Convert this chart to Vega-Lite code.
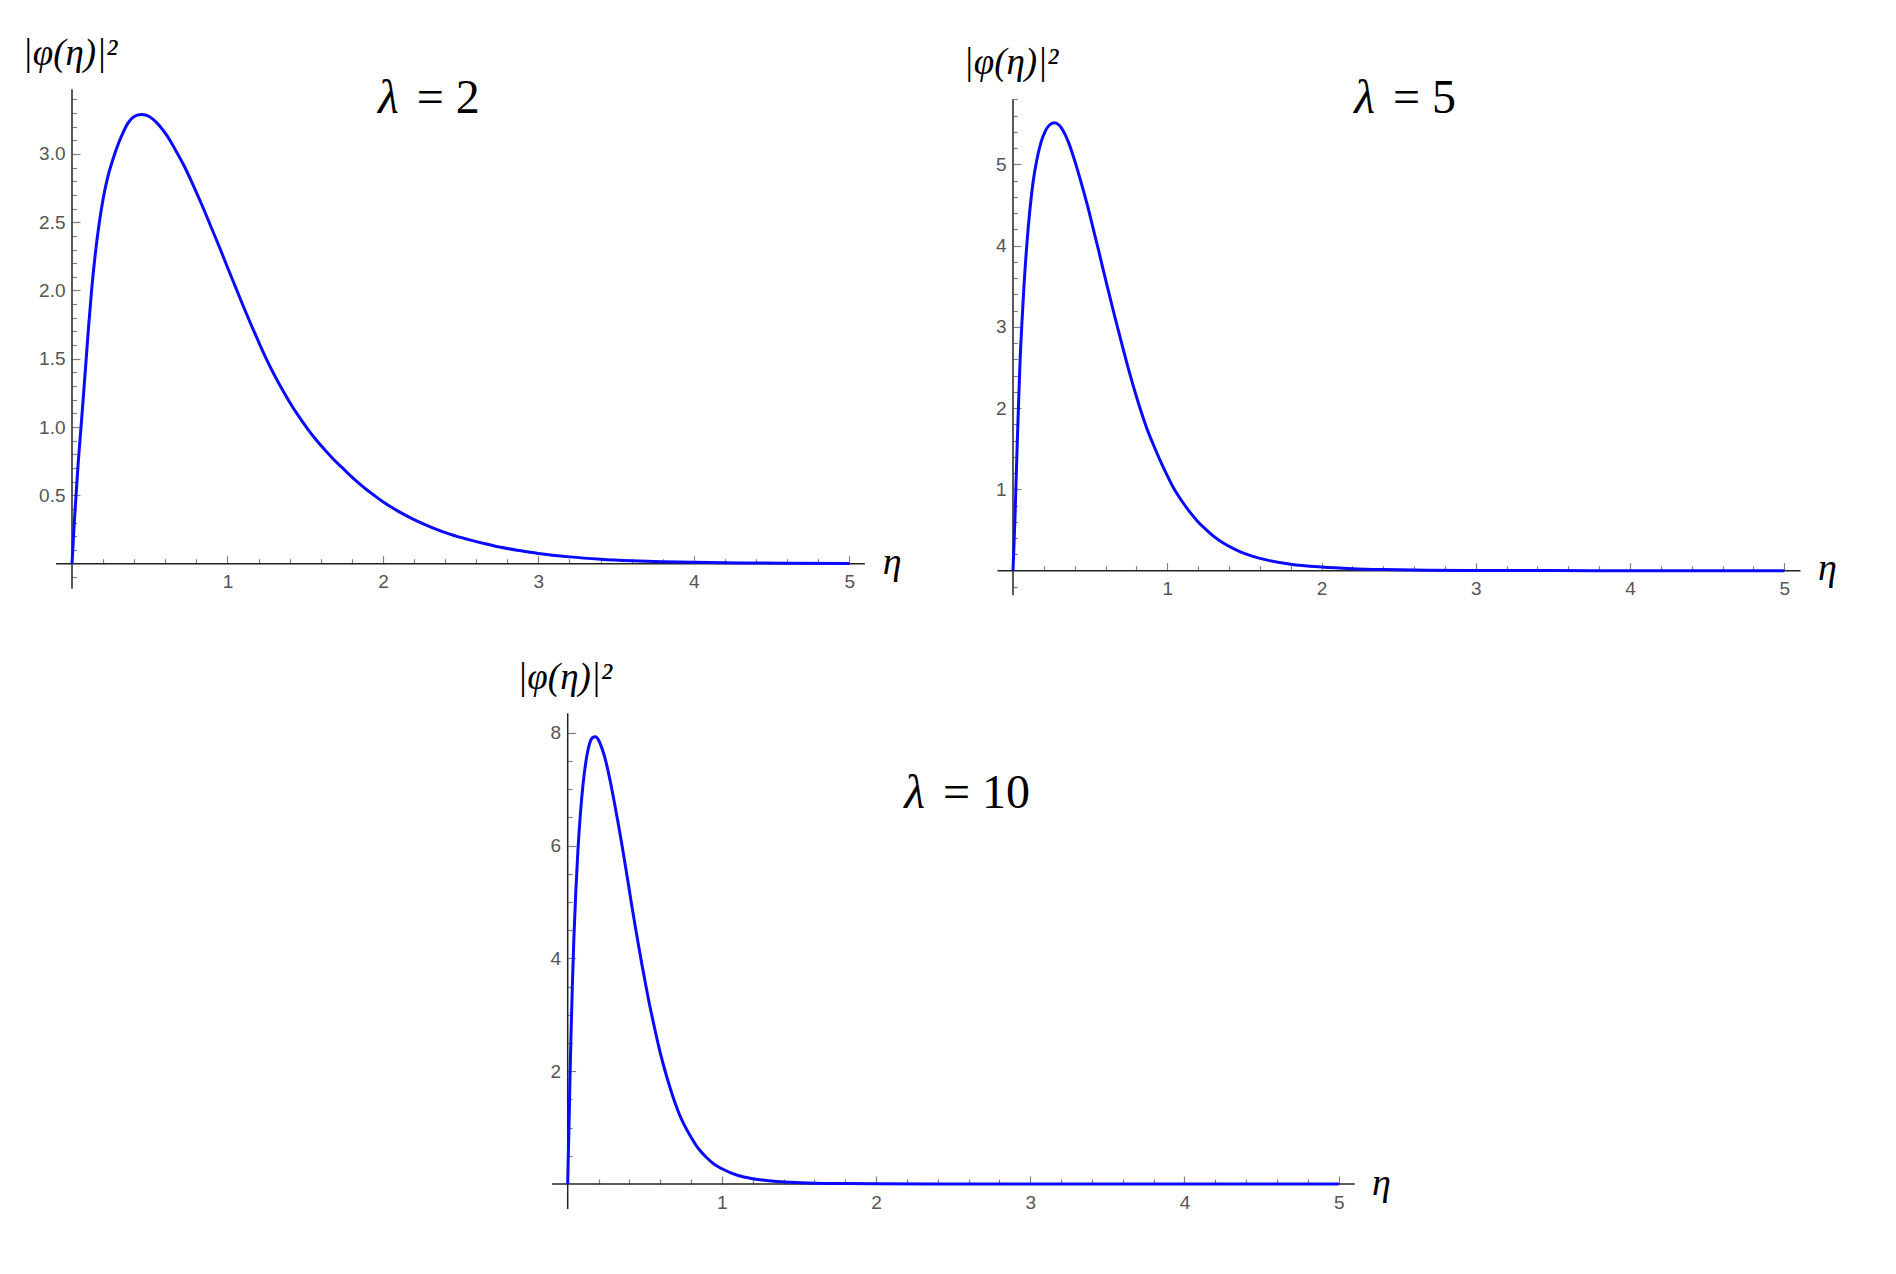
{
  "$schema": "https://vega.github.io/schema/vega-lite/v6.json",
  "padding": 0,
  "spacing": 0,
  "background": "white",
  "config": {"view": {"stroke": null, "fill": "white"}},
  "datasets": {
    "one": [{"k": 1}],
    "c2": [
      {"eta":0,"p":0},{"eta":0.005,"p":0.1},{"eta":0.012,"p":0.25},{"eta":0.026,"p":0.5},{"eta":0.04,"p":0.74},{"eta":0.058,"p":1.0},{"eta":0.075,"p":1.25},{"eta":0.09,"p":1.48},{"eta":0.107,"p":1.74},{"eta":0.126,"p":2.0},{"eta":0.15,"p":2.27},{"eta":0.176,"p":2.5},{"eta":0.2,"p":2.67},{"eta":0.23,"p":2.83},{"eta":0.266,"p":2.97},{"eta":0.3,"p":3.08},{"eta":0.33,"p":3.16},{"eta":0.36,"p":3.225},{"eta":0.39,"p":3.265},{"eta":0.42,"p":3.284},{"eta":0.448,"p":3.289},{"eta":0.48,"p":3.282},{"eta":0.52,"p":3.255},{"eta":0.56,"p":3.21},{"eta":0.61,"p":3.135},{"eta":0.66,"p":3.04},{"eta":0.72,"p":2.915},{"eta":0.78,"p":2.77},{"eta":0.84,"p":2.615},{"eta":0.9,"p":2.45},{"eta":0.96,"p":2.285},{"eta":1.0,"p":2.17},{"eta":1.05,"p":2.03},{"eta":1.1,"p":1.89},{"eta":1.15,"p":1.755},{"eta":1.2,"p":1.625},{"eta":1.25,"p":1.5},{"eta":1.3,"p":1.385},{"eta":1.36,"p":1.26},{"eta":1.42,"p":1.145},{"eta":1.47,"p":1.06},{"eta":1.52,"p":0.98},{"eta":1.57,"p":0.907},{"eta":1.63,"p":0.828},{"eta":1.68,"p":0.767},{"eta":1.74,"p":0.701},{"eta":1.79,"p":0.645},{"eta":1.85,"p":0.585},{"eta":1.9,"p":0.538},{"eta":1.95,"p":0.495},{"eta":2.0,"p":0.454},{"eta":2.1,"p":0.383},{"eta":2.2,"p":0.323},{"eta":2.32,"p":0.263},{"eta":2.44,"p":0.213},{"eta":2.54,"p":0.18},{"eta":2.65,"p":0.148},{"eta":2.75,"p":0.122},{"eta":2.88,"p":0.096},{"eta":3.0,"p":0.075},{"eta":3.2,"p":0.05},{"eta":3.4,"p":0.033},{"eta":3.6,"p":0.022},{"eta":3.8,"p":0.015},{"eta":4.0,"p":0.01},{"eta":4.3,"p":0.006},{"eta":4.6,"p":0.0035},{"eta":5.0,"p":0.0015}
    ],
    "c5": [
      {"eta":0,"p":0},{"eta":0.005,"p":0.25},{"eta":0.013,"p":0.66},{"eta":0.02,"p":1.1},{"eta":0.028,"p":1.6},{"eta":0.036,"p":2.05},{"eta":0.045,"p":2.54},{"eta":0.057,"p":3.02},{"eta":0.071,"p":3.5},{"eta":0.09,"p":4.02},{"eta":0.11,"p":4.45},{"eta":0.13,"p":4.78},{"eta":0.153,"p":5.04},{"eta":0.18,"p":5.26},{"eta":0.207,"p":5.4},{"eta":0.235,"p":5.48},{"eta":0.268,"p":5.51},{"eta":0.3,"p":5.48},{"eta":0.326,"p":5.41},{"eta":0.36,"p":5.27},{"eta":0.391,"p":5.1},{"eta":0.42,"p":4.92},{"eta":0.456,"p":4.68},{"eta":0.49,"p":4.44},{"eta":0.521,"p":4.2},{"eta":0.555,"p":3.94},{"eta":0.585,"p":3.7},{"eta":0.62,"p":3.43},{"eta":0.65,"p":3.2},{"eta":0.685,"p":2.94},{"eta":0.715,"p":2.72},{"eta":0.75,"p":2.47},{"eta":0.78,"p":2.27},{"eta":0.82,"p":2.02},{"eta":0.866,"p":1.76},{"eta":0.91,"p":1.55},{"eta":0.953,"p":1.36},{"eta":1.0,"p":1.17},{"eta":1.04,"p":1.02},{"eta":1.09,"p":0.87},{"eta":1.147,"p":0.72},{"eta":1.2,"p":0.6},{"eta":1.255,"p":0.5},{"eta":1.31,"p":0.41},{"eta":1.363,"p":0.34},{"eta":1.42,"p":0.28},{"eta":1.47,"p":0.235},{"eta":1.55,"p":0.18},{"eta":1.65,"p":0.13},{"eta":1.8,"p":0.08},{"eta":2.0,"p":0.045},{"eta":2.2,"p":0.025},{"eta":2.4,"p":0.014},{"eta":2.7,"p":0.006},{"eta":3.0,"p":0.003},{"eta":3.5,"p":0.001},{"eta":4.0,"p":0.0003},{"eta":5.0,"p":0}
    ],
    "c10": [
      {"eta":0,"p":0},{"eta":0.004,"p":0.5},{"eta":0.009,"p":1.1},{"eta":0.015,"p":1.9},{"eta":0.022,"p":2.7},{"eta":0.03,"p":3.5},{"eta":0.04,"p":4.35},{"eta":0.052,"p":5.15},{"eta":0.066,"p":5.9},{"eta":0.082,"p":6.55},{"eta":0.1,"p":7.1},{"eta":0.12,"p":7.52},{"eta":0.14,"p":7.79},{"eta":0.16,"p":7.91},{"eta":0.18,"p":7.93},{"eta":0.2,"p":7.87},{"eta":0.22,"p":7.74},{"eta":0.242,"p":7.55},{"eta":0.262,"p":7.32},{"eta":0.282,"p":7.06},{"eta":0.305,"p":6.73},{"eta":0.329,"p":6.37},{"eta":0.35,"p":6.04},{"eta":0.373,"p":5.66},{"eta":0.395,"p":5.29},{"eta":0.416,"p":4.93},{"eta":0.438,"p":4.57},{"eta":0.46,"p":4.22},{"eta":0.482,"p":3.88},{"eta":0.504,"p":3.56},{"eta":0.527,"p":3.23},{"eta":0.551,"p":2.92},{"eta":0.575,"p":2.62},{"eta":0.6,"p":2.33},{"eta":0.625,"p":2.07},{"eta":0.65,"p":1.83},{"eta":0.675,"p":1.61},{"eta":0.7,"p":1.41},{"eta":0.725,"p":1.23},{"eta":0.75,"p":1.08},{"eta":0.8,"p":0.83},{"eta":0.85,"p":0.62},{"eta":0.9,"p":0.47},{"eta":0.95,"p":0.35},{"eta":1.0,"p":0.27},{"eta":1.1,"p":0.155},{"eta":1.2,"p":0.093},{"eta":1.3,"p":0.057},{"eta":1.45,"p":0.03},{"eta":1.6,"p":0.015},{"eta":1.8,"p":0.007},{"eta":2.0,"p":0.003},{"eta":2.5,"p":0.001},{"eta":3.0,"p":0},{"eta":5.0,"p":0}
    ]
  },
  "vconcat": [
    {
      "spacing": 0,
      "hconcat": [
        {
          "width": 930,
          "height": 640,
          "layer": [
            {"data": {"name": "one"}, "mark": {"type": "rule", "color": "#222222", "strokeWidth": 1.5},
             "encoding": {"x": {"datum": -0.103, "type": "quantitative"}, "x2": {"datum": 5.1}, "y": {"datum": 0, "type": "quantitative"}}},
            {"data": {"name": "one"}, "mark": {"type": "rule", "color": "#222222", "strokeWidth": 1.5},
             "encoding": {"x": {"datum": 0, "type": "quantitative"}, "y": {"datum": -0.183, "type": "quantitative"}, "y2": {"datum": 3.473}}},
            {"data": {"name": "c2"},
             "mark": {"type": "line", "color": "#0a0aff", "strokeWidth": 3, "interpolate": "monotone"},
             "encoding": {
              "x": {
                "field": "eta", "type": "quantitative",
                "scale": {"domain": [-0.46314, 5.5191], "nice": false, "zero": false},
                "axis": {
                  "orient": "bottom", "offset": -76.3, "domain": false, "grid": false, "tickCount": 1000,
                  "values": [0.2,0.4,0.6,0.8,1,1.2,1.4,1.6,1.8,2,2.2,2.4,2.6,2.8,3,3.2,3.4,3.6,3.8,4,4.2,4.4,4.6,4.8,5],
                  "tickSize": {"condition": {"test": "abs(datum.value - round(datum.value)) < 1e-6", "value": -8}, "value": -5},
                  "tickColor": "#808080", "tickWidth": 1.2,
                  "labelExpr": "abs(datum.value - round(datum.value)) < 1e-6 ? format(datum.value, 'd') : ''",
                  "labelPadding": 17, "labelFont": "Liberation Sans", "labelFontSize": 19, "labelColor": "#555555",
                  "labelFlush": false, "labelOverlap": false, "labelBaseline": "top", "labelAlign": "center",
                  "title": "η", "titleFont": "Liberation Serif", "titleFontStyle": "italic", "titleFontWeight": "normal",
                  "titleFontSize": 38, "titleColor": "#000000", "titleX": 891.7, "titleY": 10, "titleAlign": "center",
                  "titleBaseline": "alphabetic", "titleAngle": 0
                }
              },
              "y": {
                "field": "p", "type": "quantitative",
                "scale": {"domain": [-0.55857, 4.12665], "nice": false, "zero": false},
                "axis": {
                  "orient": "left", "offset": -72, "domain": false, "grid": false, "tickCount": 1000,
                  "values": [-0.1,0.1,0.2,0.3,0.4,0.5,0.6,0.7,0.8,0.9,1,1.1,1.2,1.3,1.4,1.5,1.6,1.7,1.8,1.9,2,2.1,2.2,2.3,2.4,2.5,2.6,2.7,2.8,2.9,3,3.1,3.2,3.3,3.4],
                  "tickSize": {"condition": {"test": "abs(datum.value*2 - round(datum.value*2)) < 1e-6", "value": -8}, "value": -4.5},
                  "tickColor": "#808080", "tickWidth": 1.2,
                  "labelExpr": "abs(datum.value*2 - round(datum.value*2)) < 1e-6 ? format(datum.value, '.1f') : ''",
                  "labelPadding": 15, "labelFont": "Liberation Sans", "labelFontSize": 19, "labelColor": "#555555",
                  "labelFlush": false, "labelOverlap": false, "labelAlign": "right", "labelBaseline": "middle",
                  "title": "|φ(η)|²", "titleFont": "Liberation Serif", "titleFontStyle": "italic", "titleFontWeight": "normal",
                  "titleFontSize": 37, "titleColor": "#000000", "titleX": -50, "titleY": 64, "titleAlign": "left",
                  "titleBaseline": "alphabetic", "titleAngle": 0
                }
              }
            }},
            {"data": {"name": "one"}, "mark": {"type": "text", "font": "Liberation Serif", "fontSize": 48, "fontStyle": "italic", "align": "right", "baseline": "alphabetic", "color": "#000000", "dx": -9},
             "encoding": {"x": {"datum": 2.16, "type": "quantitative"}, "y": {"datum": 3.3016, "type": "quantitative"}, "text": {"value": "λ"}}},
            {"data": {"name": "one"}, "mark": {"type": "text", "font": "Liberation Serif", "fontSize": 48, "align": "left", "baseline": "alphabetic", "color": "#000000", "dx": 9},
             "encoding": {"x": {"datum": 2.16, "type": "quantitative"}, "y": {"datum": 3.3016, "type": "quantitative"}, "text": {"value": "= 2"}}}
          ]
        },
        {
          "width": 966,
          "height": 640,
          "layer": [
            {"data": {"name": "one"}, "mark": {"type": "rule", "color": "#222222", "strokeWidth": 1.5},
             "encoding": {"x": {"datum": -0.101, "type": "quantitative"}, "x2": {"datum": 5.105}, "y": {"datum": 0, "type": "quantitative"}}},
            {"data": {"name": "one"}, "mark": {"type": "rule", "color": "#222222", "strokeWidth": 1.5},
             "encoding": {"x": {"datum": 0, "type": "quantitative"}, "y": {"datum": -0.303, "type": "quantitative"}, "y2": {"datum": 5.8}}},
            {"data": {"name": "c5"},
             "mark": {"type": "line", "color": "#0a0aff", "strokeWidth": 3, "interpolate": "monotone"},
             "encoding": {
              "x": {
                "field": "eta", "type": "quantitative",
                "scale": {"domain": [-0.53806, 5.72411], "nice": false, "zero": false},
                "axis": {
                  "orient": "bottom", "offset": -69.3, "domain": false, "grid": false, "tickCount": 1000,
                  "values": [0.2,0.4,0.6,0.8,1,1.2,1.4,1.6,1.8,2,2.2,2.4,2.6,2.8,3,3.2,3.4,3.6,3.8,4,4.2,4.4,4.6,4.8,5],
                  "tickSize": {"condition": {"test": "abs(datum.value - round(datum.value)) < 1e-6", "value": -8}, "value": -5},
                  "tickColor": "#808080", "tickWidth": 1.2,
                  "labelExpr": "abs(datum.value - round(datum.value)) < 1e-6 ? format(datum.value, 'd') : ''",
                  "labelPadding": 17, "labelFont": "Liberation Sans", "labelFontSize": 19, "labelColor": "#555555",
                  "labelFlush": false, "labelOverlap": false, "labelBaseline": "top", "labelAlign": "center",
                  "title": "η", "titleFont": "Liberation Serif", "titleFontStyle": "italic", "titleFontWeight": "normal",
                  "titleFontSize": 38, "titleColor": "#000000", "titleX": 897, "titleY": 9, "titleAlign": "center",
                  "titleBaseline": "alphabetic", "titleAngle": 0
                }
              },
              "y": {
                "field": "p", "type": "quantitative",
                "scale": {"domain": [-0.85261, 7.0214], "nice": false, "zero": false},
                "axis": {
                  "orient": "left", "offset": -83, "domain": false, "grid": false, "tickCount": 1000,
                  "values": [-0.2,0.2,0.4,0.6,0.8,1,1.2,1.4,1.6,1.8,2,2.2,2.4,2.6,2.8,3,3.2,3.4,3.6,3.8,4,4.2,4.4,4.6,4.8,5,5.2,5.4,5.6,5.8],
                  "tickSize": {"condition": {"test": "abs(datum.value - round(datum.value)) < 1e-6", "value": -8}, "value": -4.5},
                  "tickColor": "#808080", "tickWidth": 1.2,
                  "labelExpr": "abs(datum.value - round(datum.value)) < 1e-6 ? format(datum.value, 'd') : ''",
                  "labelPadding": 15, "labelFont": "Liberation Sans", "labelFontSize": 19, "labelColor": "#555555",
                  "labelFlush": false, "labelOverlap": false, "labelAlign": "right", "labelBaseline": "middle",
                  "title": "|φ(η)|²", "titleFont": "Liberation Serif", "titleFontStyle": "italic", "titleFontWeight": "normal",
                  "titleFontSize": 37, "titleColor": "#000000", "titleX": -50, "titleY": 73, "titleAlign": "left",
                  "titleBaseline": "alphabetic", "titleAngle": 0
                }
              }
            }},
            {"data": {"name": "one"}, "mark": {"type": "text", "font": "Liberation Serif", "fontSize": 48, "fontStyle": "italic", "align": "right", "baseline": "alphabetic", "color": "#000000", "dx": -9},
             "encoding": {"x": {"datum": 2.405, "type": "quantitative"}, "y": {"datum": 5.635, "type": "quantitative"}, "text": {"value": "λ"}}},
            {"data": {"name": "one"}, "mark": {"type": "text", "font": "Liberation Serif", "fontSize": 48, "align": "left", "baseline": "alphabetic", "color": "#000000", "dx": 9},
             "encoding": {"x": {"datum": 2.405, "type": "quantitative"}, "y": {"datum": 5.635, "type": "quantitative"}, "text": {"value": "= 5"}}}
          ]
        }
      ]
    },
    {
      "width": 1896,
      "height": 634,
      "layer": [
        {"data": {"name": "one"}, "mark": {"type": "rule", "color": "#222222", "strokeWidth": 1.5},
         "encoding": {"x": {"datum": -0.102, "type": "quantitative"}, "x2": {"datum": 5.104}, "y": {"datum": 0, "type": "quantitative"}}},
        {"data": {"name": "one"}, "mark": {"type": "rule", "color": "#222222", "strokeWidth": 1.5},
         "encoding": {"x": {"datum": 0, "type": "quantitative"}, "y": {"datum": -0.443, "type": "quantitative"}, "y2": {"datum": 8.345}}},
        {"data": {"name": "c10"},
         "mark": {"type": "line", "color": "#0a0aff", "strokeWidth": 3, "interpolate": "monotone"},
         "encoding": {
          "x": {
            "field": "eta", "type": "quantitative",
            "scale": {"domain": [-3.68158, 8.61414], "nice": false, "zero": false},
            "axis": {
              "orient": "bottom", "offset": -90, "domain": false, "grid": false, "tickCount": 1000,
              "values": [0.2,0.4,0.6,0.8,1,1.2,1.4,1.6,1.8,2,2.2,2.4,2.6,2.8,3,3.2,3.4,3.6,3.8,4,4.2,4.4,4.6,4.8,5],
              "tickSize": {"condition": {"test": "abs(datum.value - round(datum.value)) < 1e-6", "value": -8}, "value": -5},
              "tickColor": "#808080", "tickWidth": 1.2,
              "labelExpr": "abs(datum.value - round(datum.value)) < 1e-6 ? format(datum.value, 'd') : ''",
              "labelPadding": 17, "labelFont": "Liberation Sans", "labelFontSize": 19, "labelColor": "#555555",
              "labelFlush": false, "labelOverlap": false, "labelBaseline": "top", "labelAlign": "center",
              "title": "η", "titleFont": "Liberation Serif", "titleFontStyle": "italic", "titleFontWeight": "normal",
              "titleFontSize": 38, "titleColor": "#000000", "titleX": 1381, "titleY": 10, "titleAlign": "center",
              "titleBaseline": "alphabetic", "titleAngle": 0
            }
          },
          "y": {
            "field": "p", "type": "quantitative",
            "scale": {"domain": [-1.59546, 9.64369], "nice": false, "zero": false},
            "axis": {
              "orient": "left", "offset": -567.7, "domain": false, "grid": false, "tickCount": 1000,
              "values": [0.5,1,1.5,2,2.5,3,3.5,4,4.5,5,5.5,6,6.5,7,7.5,8],
              "tickSize": {"condition": {"test": "abs(datum.value/2 - round(datum.value/2)) < 1e-6", "value": -8}, "value": -4.5},
              "tickColor": "#808080", "tickWidth": 1.2,
              "labelExpr": "abs(datum.value/2 - round(datum.value/2)) < 1e-6 ? format(datum.value, 'd') : ''",
              "labelPadding": 15, "labelFont": "Liberation Sans", "labelFontSize": 19, "labelColor": "#555555",
              "labelFlush": false, "labelOverlap": false, "labelAlign": "right", "labelBaseline": "middle",
              "title": "|φ(η)|²", "titleFont": "Liberation Serif", "titleFontStyle": "italic", "titleFontWeight": "normal",
              "titleFontSize": 37, "titleColor": "#000000", "titleX": -51, "titleY": 48, "titleAlign": "left",
              "titleBaseline": "alphabetic", "titleAngle": 0
            }
          }
        }},
        {"data": {"name": "one"}, "mark": {"type": "text", "font": "Liberation Serif", "fontSize": 48, "fontStyle": "italic", "align": "right", "baseline": "alphabetic", "color": "#000000", "dx": -9},
         "encoding": {"x": {"datum": 2.375, "type": "quantitative"}, "y": {"datum": 6.671, "type": "quantitative"}, "text": {"value": "λ"}}},
        {"data": {"name": "one"}, "mark": {"type": "text", "font": "Liberation Serif", "fontSize": 48, "align": "left", "baseline": "alphabetic", "color": "#000000", "dx": 9},
         "encoding": {"x": {"datum": 2.375, "type": "quantitative"}, "y": {"datum": 6.671, "type": "quantitative"}, "text": {"value": "= 10"}}}
      ]
    }
  ]
}
